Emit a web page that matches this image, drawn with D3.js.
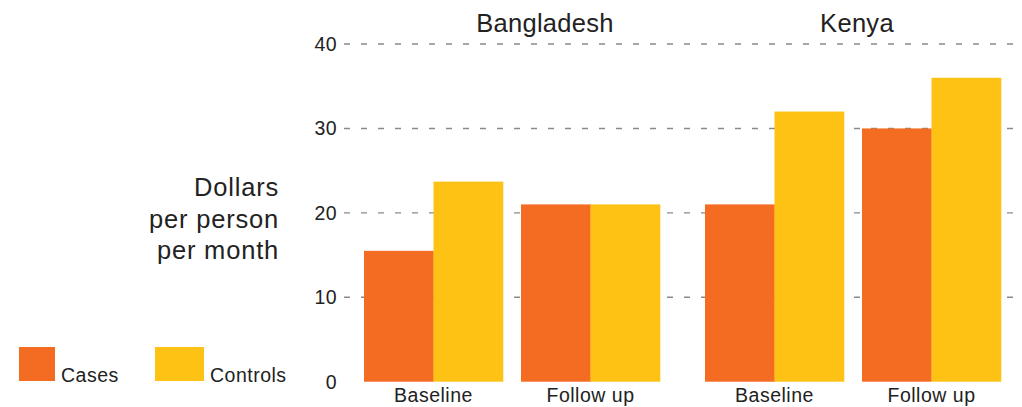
<!DOCTYPE html>
<html><head><meta charset="utf-8">
<script src="https://cdn.jsdelivr.net/npm/d3@7"></script>
<style>
html,body{margin:0;padding:0;background:#fff;}
svg{display:block;font-family:"Liberation Sans",Arial,Helvetica,sans-serif;}
</style></head>
<body>
<svg id="chart" width="1022" height="407"></svg>
<script>
const countries = ["Bangladesh", "Kenya"];
const periods = ["Baseline", "Follow up"];
const seriesNames = ["Cases", "Controls"];
const casesValues = [15.5, 21.0, 21.0, 30.0];      // Bangladesh BL, FU, Kenya BL, FU
const controlsValues = [23.7, 21.0, 32.0, 36.0];
const yTicks = [0, 10, 20, 30, 40];
const yLabelLines = ["Dollars", "per person", "per month"];
const colors = ["#F36C21", "#FDC214"];

const svg = d3.select("#chart");
const W = 1022, H = 407;
const y = d3.scaleLinear().domain([0, 40]).range([381.7, 44]);
const xCountry = d3.scaleBand().domain(countries).range([364, 1001]).paddingInner(45/341);
const xPeriod = d3.scaleBand().domain(periods).range([0, xCountry.bandwidth()]).paddingInner(18/157);
const xSeries = d3.scaleBand().domain(seriesNames).range([0, xPeriod.bandwidth()]);
const color = d3.scaleOrdinal().domain(seriesNames).range(colors);

const data = [];
countries.forEach((c, ci) => periods.forEach((p, pi) => {
  const idx = ci * 2 + pi;
  data.push({country: c, period: p, series: "Cases", value: casesValues[idx]});
  data.push({country: c, period: p, series: "Controls", value: controlsValues[idx]});
}));

// gridlines
svg.append("g").selectAll("line").data(yTicks.filter(d => d > 0)).join("line")
  .attr("x1", 344).attr("x2", W)
  .attr("y1", d => y(d)).attr("y2", d => y(d))
  .attr("stroke", "#8a8a8a").attr("stroke-width", 1.4)
  .attr("stroke-dasharray", "6,11");

// tick labels
svg.append("g").selectAll("text").data(yTicks).join("text")
  .attr("x", 337).attr("y", d => y(d)).attr("dy", "0.36em")
  .attr("text-anchor", "end").attr("font-size", 19.5).attr("fill", "#222")
  .attr("letter-spacing", 0.4)
  .text(d => d);

// bars
svg.append("g").selectAll("rect").data(data).join("rect")
  .attr("x", d => xCountry(d.country) + xPeriod(d.period) + xSeries(d.series))
  .attr("width", xSeries.bandwidth() + 0.3)
  .attr("y", d => y(d.value))
  .attr("height", d => y(0) - y(d.value))
  .attr("fill", d => color(d.series));

// x labels
const xl = [];
countries.forEach(c => periods.forEach(p => xl.push({c, p})));
svg.append("g").selectAll("text").data(xl).join("text")
  .attr("x", d => xCountry(d.c) + xPeriod(d.p) + xPeriod.bandwidth() / 2)
  .attr("y", 402).attr("text-anchor", "middle")
  .attr("font-size", 19.5).attr("fill", "#222").attr("letter-spacing", 0.5)
  .text(d => d.p);

// country titles
const titleOffsets = {Bangladesh: 33, Kenya: 4};
svg.append("g").selectAll("text").data(countries).join("text")
  .attr("x", d => xCountry(d) + xCountry.bandwidth() / 2 + titleOffsets[d])
  .attr("y", 32).attr("text-anchor", "middle")
  .attr("font-size", 25.5).attr("fill", "#222").attr("letter-spacing", 0.3)
  .text(d => d);

// y axis label
svg.append("g").selectAll("text").data(yLabelLines).join("text")
  .attr("x", 279).attr("y", (d, i) => 196 + i * 31.5)
  .attr("text-anchor", "end").attr("font-size", 25.5).attr("fill", "#222")
  .attr("letter-spacing", 0.8)
  .text(d => d);

// legend
const legend = [
  {name: "Cases", x: 19, w: 36},
  {name: "Controls", x: 155, w: 49}
];
const lg = svg.append("g").selectAll("g").data(legend).join("g");
lg.append("rect").attr("x", d => d.x).attr("y", 347).attr("width", d => d.w).attr("height", 34)
  .attr("fill", d => color(d.name));
lg.append("text").attr("x", d => d.x + d.w + 6).attr("y", 382)
  .attr("font-size", 19.5).attr("fill", "#222").attr("letter-spacing", 0.5).text(d => d.name);
</script>
</body></html>
